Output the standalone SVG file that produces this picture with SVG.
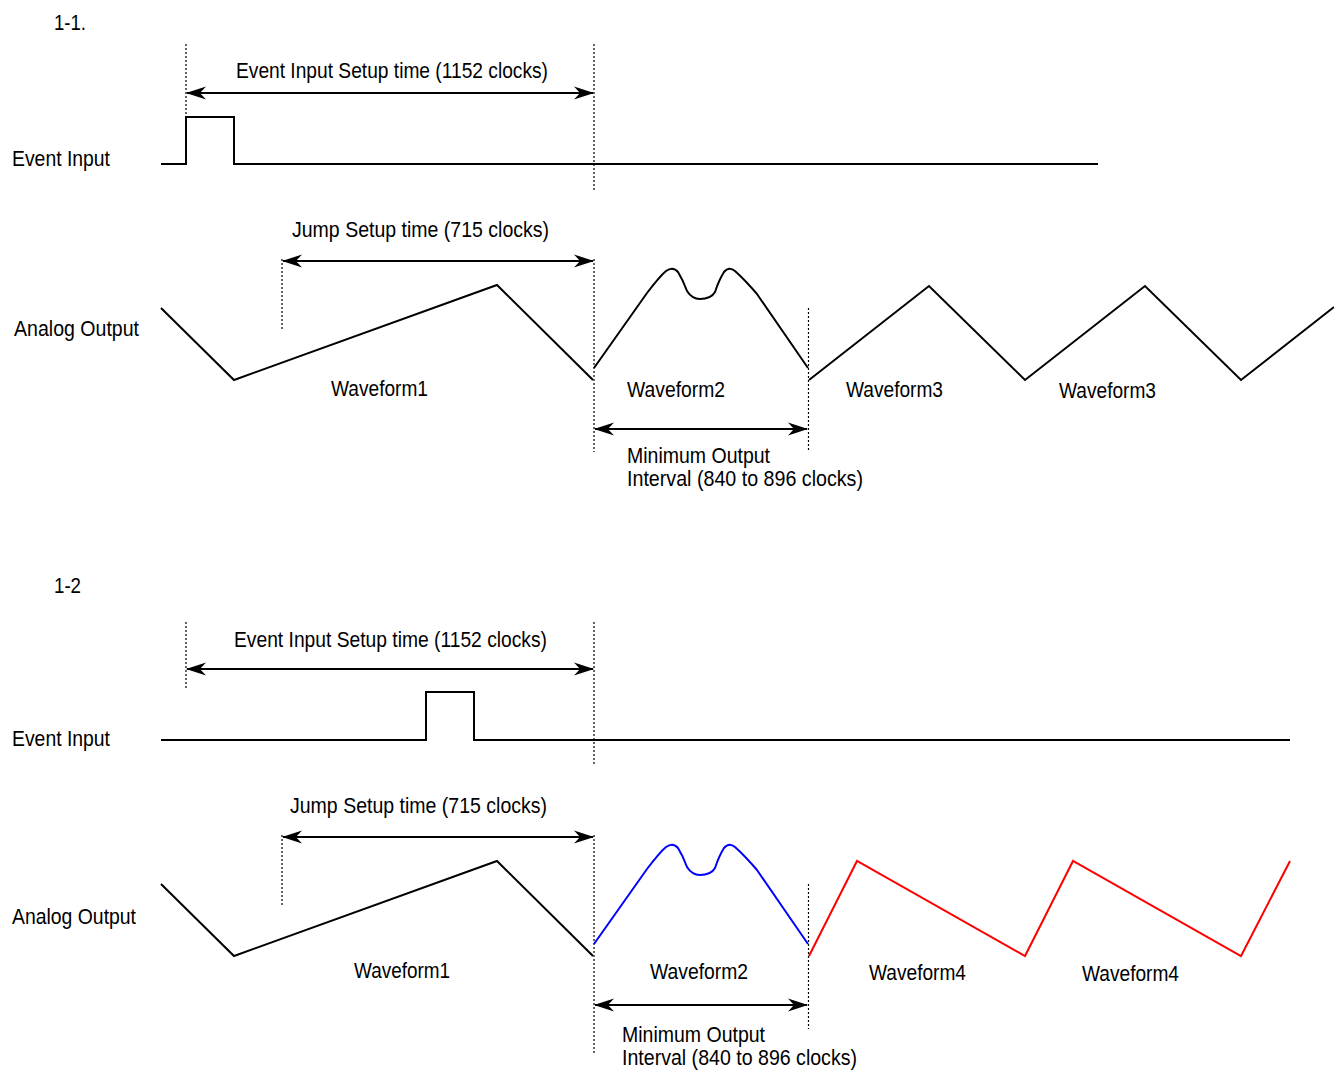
<svg xmlns="http://www.w3.org/2000/svg" width="1334" height="1072" viewBox="0 0 1334 1072">
<style>
text{font-family:"Liberation Sans",Arial,sans-serif;font-size:22px;fill:#000}
.sig{fill:none;stroke:#000;stroke-width:2;stroke-linejoin:miter}
.dot{fill:none;stroke:#000;stroke-width:1.2;stroke-dasharray:2,2}
.arr{fill:none;stroke:#000;stroke-width:2;marker-start:url(#ah);marker-end:url(#ah)}
</style>
<defs>
<marker id="ah" viewBox="0 0 20 14" refX="19" refY="7" markerWidth="20" markerHeight="14" markerUnits="userSpaceOnUse" orient="auto-start-reverse">
<path d="M0,0.5 L20,7 L0,13.5 L6,7 Z" fill="#000"/>
</marker>
</defs>
<rect width="1334" height="1072" fill="#fff"/>

<g id="section-1-1">
<text x="54" y="30" textLength="32" lengthAdjust="spacingAndGlyphs">1-1.</text>
<g id="guides-1">
<line class="dot" x1="186" y1="44" x2="186" y2="117"/>
<line class="dot" x1="594" y1="44" x2="594" y2="190"/>
<line class="dot" x1="282" y1="259" x2="282" y2="330"/>
<line class="dot" x1="594" y1="259" x2="594" y2="452"/>
<line class="dot" x1="808.5" y1="308" x2="808.5" y2="452"/>
</g>
<g id="event-input-1">
<text x="12" y="166" textLength="98" lengthAdjust="spacingAndGlyphs">Event Input</text>
<path class="sig" d="M161,164 H186 V117 H234 V164 H1098"/>
</g>
<g id="analog-output-1">
<text x="14" y="336" textLength="125" lengthAdjust="spacingAndGlyphs">Analog Output</text>
<path class="sig" d="M161,308 L234,380 L497,285 L593,380"/>
<path class="sig" d="M594,368 L647,293 Q660,276 666,271 Q673,266 678,272 Q683,280 687,291 Q692,299 700,299 Q711,299 715,292 Q719,280 724,272 Q729,266 735,271 Q745,280 757,294 L808,368"/>
<path class="sig" d="M809,380 L929,286 L1025,380 L1145,286 L1241,380 L1334,307"/>
<text x="331" y="396" textLength="97" lengthAdjust="spacingAndGlyphs">Waveform1</text>
<text x="627" y="397" textLength="98" lengthAdjust="spacingAndGlyphs">Waveform2</text>
<text x="846" y="397" textLength="97" lengthAdjust="spacingAndGlyphs">Waveform3</text>
<text x="1059" y="398" textLength="97" lengthAdjust="spacingAndGlyphs">Waveform3</text>
</g>
<g id="labels-1">
<text x="236" y="78" textLength="312" lengthAdjust="spacingAndGlyphs">Event Input Setup time (1152 clocks)</text>
<text x="292" y="237" textLength="257" lengthAdjust="spacingAndGlyphs">Jump Setup time (715 clocks)</text>
<text x="627" y="463" textLength="143" lengthAdjust="spacingAndGlyphs">Minimum Output</text>
<text x="627" y="486" textLength="236" lengthAdjust="spacingAndGlyphs">Interval (840 to 896 clocks)</text>
</g>
</g>

<g id="section-1-2">
<text x="54" y="593" textLength="27" lengthAdjust="spacingAndGlyphs">1-2</text>
<g id="guides-2">
<line class="dot" x1="186" y1="622" x2="186" y2="690"/>
<line class="dot" x1="594" y1="622" x2="594" y2="765"/>
<line class="dot" x1="282" y1="835" x2="282" y2="906"/>
<line class="dot" x1="594" y1="835" x2="594" y2="1054"/>
<line class="dot" x1="808.5" y1="884" x2="808.5" y2="1029"/>
</g>
<g id="event-input-2">
<text x="12" y="746" textLength="98" lengthAdjust="spacingAndGlyphs">Event Input</text>
<path class="sig" d="M161,740 H426 V692 H474 V740 H1290"/>
</g>
<g id="analog-output-2">
<text x="12" y="924" textLength="124" lengthAdjust="spacingAndGlyphs">Analog Output</text>
<path class="sig" d="M161,884 L234,956 L497,861 L593,956"/>
<path class="sig" style="stroke:#0000ff" d="M594,944 L647,869 Q660,852 666,847 Q673,842 678,848 Q683,856 687,867 Q692,875 700,875 Q711,875 715,868 Q719,856 724,848 Q729,842 735,847 Q745,856 757,870 L808,944"/>
<path class="sig" style="stroke:#ff0000" d="M809,956 L857,861 L1025,956 L1073,861 L1241,956 L1290,861"/>
<text x="354" y="978" textLength="96" lengthAdjust="spacingAndGlyphs">Waveform1</text>
<text x="650" y="979" textLength="98" lengthAdjust="spacingAndGlyphs">Waveform2</text>
<text x="869" y="980" textLength="97" lengthAdjust="spacingAndGlyphs">Waveform4</text>
<text x="1082" y="981" textLength="97" lengthAdjust="spacingAndGlyphs">Waveform4</text>
</g>
<g id="labels-2">
<text x="234" y="647" textLength="313" lengthAdjust="spacingAndGlyphs">Event Input Setup time (1152 clocks)</text>
<text x="290" y="813" textLength="257" lengthAdjust="spacingAndGlyphs">Jump Setup time (715 clocks)</text>
<text x="622" y="1042" textLength="143" lengthAdjust="spacingAndGlyphs">Minimum Output</text>
<text x="622" y="1065" textLength="235" lengthAdjust="spacingAndGlyphs">Interval (840 to 896 clocks)</text>
</g>
</g>

<g id="connectors">
<line class="arr" x1="187" y1="93" x2="593" y2="93"/>
<line class="arr" x1="283" y1="261" x2="593" y2="261"/>
<line class="arr" x1="595" y1="429" x2="807" y2="429"/>
<line class="arr" x1="187" y1="669" x2="593" y2="669"/>
<line class="arr" x1="283" y1="837" x2="593" y2="837"/>
<line class="arr" x1="595" y1="1005" x2="807" y2="1005"/>
</g>
</svg>
